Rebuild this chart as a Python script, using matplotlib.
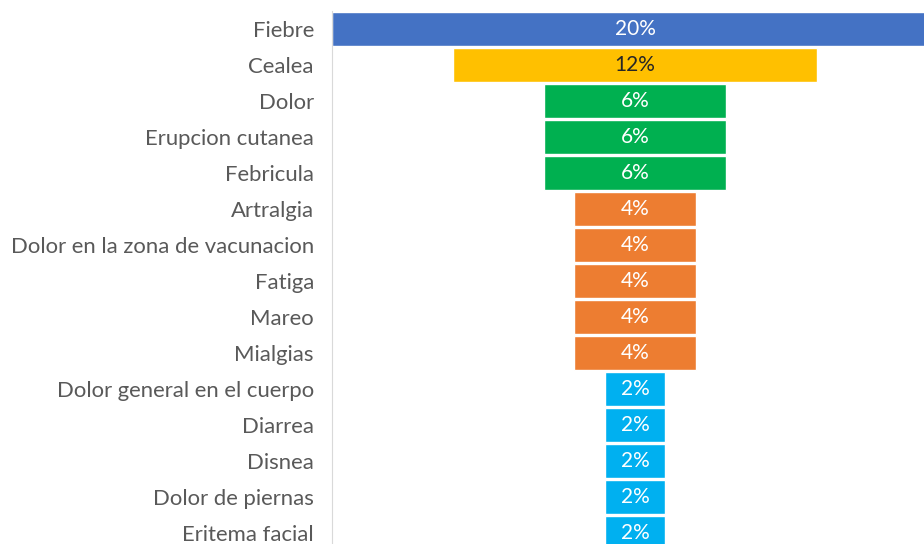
import matplotlib.pyplot as plt

# síntomas y porcentajes, de arriba a abajo
sintomas = ['Fiebre', 'Cealea', 'Dolor', 'Erupcion cutanea', 'Febricula',
            'Artralgia', 'Dolor en la zona de vacunacion', 'Fatiga', 'Mareo',
            'Mialgias', 'Dolor general en el cuerpo', 'Diarrea', 'Disnea',
            'Dolor de piernas', 'Eritema facial']
porcentajes = [20, 12, 6, 6, 6, 4, 4, 4, 4, 4, 2, 2, 2, 2, 2]
colores = ['#4472C4', '#FFC000', '#00B050', '#00B050', '#00B050',
           '#ED7D31', '#ED7D31', '#ED7D31', '#ED7D31', '#ED7D31',
           '#00B0F0', '#00B0F0', '#00B0F0', '#00B0F0', '#00B0F0']
color_texto = ['white', '#262626'] + ['white'] * 13

plt.rcParams['font.family'] = ['Lato', 'DejaVu Sans']

W, H = 924, 544
fig = plt.figure(figsize=(W / 100, H / 100), dpi=100)
# el área del gráfico sigue más allá del borde derecho e inferior
ax = fig.add_axes([332 / W, (H - 551) / H, 606 / W, 540 / H])

pos = range(len(sintomas))
izq = [-v / 2 for v in porcentajes]
bars = ax.barh(pos, porcentajes, left=izq, height=0.92, color=colores,
               edgecolor='white', linewidth=1)

for b, v, c in zip(bars, porcentajes, color_texto):
    ax.text(b.get_x() + b.get_width() / 2, b.get_y() + b.get_height() / 2,
            f'{v}%', ha='center', va='center', color=c, fontsize=15)

ax.set_xlim(-10, 10)
ax.set_ylim(len(sintomas) - 0.5, -0.5)
ax.set_yticks(list(pos))
ax.set_yticklabels(sintomas, fontsize=15.9, color='#595959')
ax.tick_params(axis='y', length=0, pad=13)
ax.set_xticks([])
for s in ['top', 'right', 'bottom']:
    ax.spines[s].set_visible(False)
ax.spines['left'].set_color('#D9D9D9')

fig.savefig('out.png', dpi=100)
